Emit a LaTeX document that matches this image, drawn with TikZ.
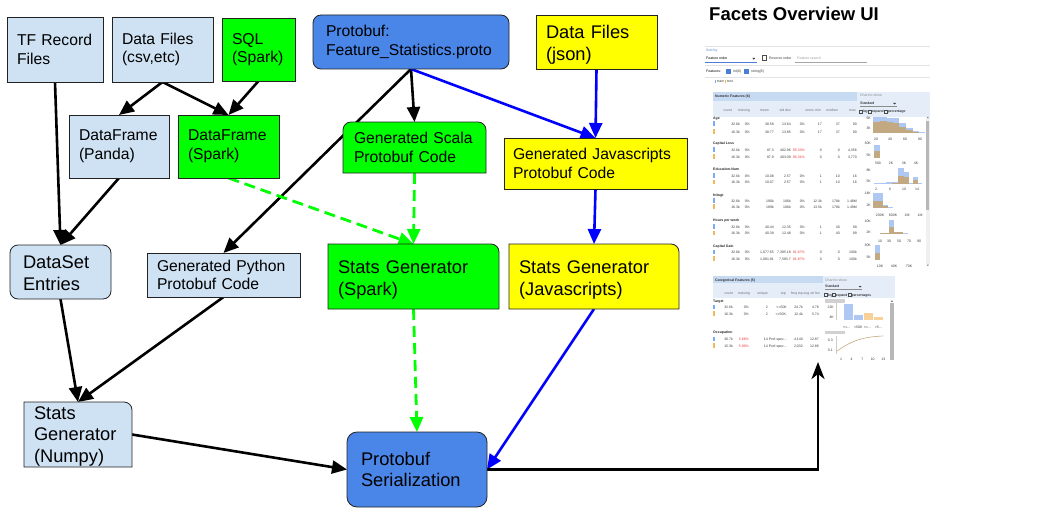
\documentclass[tikz,border=0pt]{standalone}
\usepackage{fontspec}
\setmainfont{Liberation Sans}
\usetikzlibrary{arrows.meta}
\definecolor{lblue}{HTML}{CFE2F3}
\definecolor{lgreen}{HTML}{00FF00}
\definecolor{lyellow}{HTML}{FFFF00}
\definecolor{nblue}{HTML}{4A86E8}
\definecolor{ablue}{HTML}{0000FF}
\definecolor{bordc}{HTML}{222222}
\definecolor{uiblue}{HTML}{7BAAF7}
\definecolor{uiorange}{HTML}{F4B65D}
\definecolor{hdrdark}{HTML}{C6DAF2}
\definecolor{hdrlight}{HTML}{E4EDF8}
\definecolor{histb}{HTML}{AFC8F3}
\definecolor{histt}{HTML}{C3A982}
\definecolor{histo}{HTML}{F7D199}
\definecolor{uigray}{HTML}{E3E3E3}
\definecolor{uitxt}{HTML}{3A3A3A}
\definecolor{uired}{HTML}{F03030}
\definecolor{uilink}{HTML}{4C7DD6}
\newcommand\fsml{\fontsize{15.7}{18.7}\selectfont}
\newcommand\flrg{\fontsize{18.3}{21.8}\selectfont}
\newcommand\uifont{\fontsize{3.5}{3.8}\selectfont}
\newcount\uicnt
\pgfdeclarelayer{edges}\pgfdeclarelayer{boxes}
\pgfsetlayers{edges,boxes,main}
\tikzset{
  nd/.style={anchor=north west, inner xsep=10pt, inner ysep=0pt, outer sep=0pt, align=left},
  sm/.style={font=\fsml},
  lg/.style={font=\flrg},
  dn/.style={execute at begin node={\rule{0pt}{#1}}},
  bd/.style={draw=bordc, line width=0.8pt},
  blk/.style={color=black, line width=2.6pt, -{Triangle[length=15pt,width=13pt]}},
  blu/.style={color=ablue, line width=2.6pt, -{Triangle[length=15pt,width=13pt]}},
  grn/.style={color=lgreen, line width=2.8pt, dash pattern=on 11pt off 6pt, -{Triangle[length=15pt,width=13pt]}},
  blkui/.style={color=black, line width=2.6pt, -{Stealth[length=17pt,width=13pt,inset=5pt]}},
  ut/.style={/utils/exec={\global\advance\uicnt by 1}, name=ui\the\uicnt, font=\uifont, text=uitxt, inner sep=0pt, anchor=base west},
  utr/.style={ut, anchor=base east},
  utc/.style={ut, anchor=base},
}
\newcommand\trbox[3]{\path[bd, fill=#2] (#1.south west) -- (#1.north west) -- ([xshift=-#3]#1.north east) arc[start angle=90,end angle=0,radius=#3] -- (#1.south east) -- cycle;}
\newcommand\tbox[3]{\path[bd, fill=#2] (#1.south west) -- ([yshift=-#3]#1.north west) arc[start angle=180,end angle=90,radius=#3] -- ([xshift=-#3]#1.north east) arc[start angle=90,end angle=0,radius=#3] -- (#1.south east) -- cycle;}
\newcommand\uil[3][]{\node[ut,#1] at (#2) {#3};}
\newcommand\uir[3][]{\node[utr,#1] at (#2) {#3};}
\newcommand\uicc[3][]{\node[utc,#1] at (#2) {#3};}
\newcommand\uimk[2]{\fill[#2] (713.3,-#1-0.8) rectangle (714.6,-#1+3.8);}
\newcommand\numrow[9]{\uir{740,-#1}{#2}\uir{750,-#1}{#3}\uir{774,-#1}{#4}\uir{791,-#1}{#5}\uir{805,-#1}{#6}\uir{822,-#1}{#7}\uir{840,-#1}{#8}\uir{857,-#1}{#9}}
\newcommand\catrow[7]{\uir{733,-#1}{#2}\uir{749,-#1}{#3}\uir{768,-#1}{#4}\uir{787,-#1}{#5}\uir{803,-#1}{#6}\uir{819,-#1}{#7}}
\begin{document}
\begin{tikzpicture}[x=1pt,y=1pt]
\useasboundingbox (0,0) rectangle (1056,-532);

% ---------- nodes ----------
\node[nd, sm, bd, fill=lblue, text width=76pt, minimum height=65pt] (tf) at (7,-17) {TF Record\\Files};
\node[nd, sm, bd, fill=lblue, text width=81pt, minimum height=65pt] (csv) at (112,-17) {Data Files\\(csv,etc)};
\node[nd, sm, bd, fill=lgreen, text width=53pt, minimum height=63pt] (sql) at (222,-18) {SQL\\(Spark)};
\node[nd, sm, bd, fill=lblue, text width=80pt, minimum height=63pt] (panda) at (69,-115) {DataFrame\\(Panda)};
\node[nd, sm, bd, fill=lgreen, text width=81pt, minimum height=63pt] (dfs) at (178,-115) {DataFrame\\(Spark)};
\node[nd, sm, bd, fill=nblue, rounded corners=8pt, inner xsep=13pt, text width=170pt, minimum height=54pt] (proto) at (313,-15) {Protobuf:\\Feature\_Statistics.proto};
\node[nd, lg, dn=18.2pt, bd, fill=lyellow, text width=101pt, minimum height=54pt] (json) at (536,-15) {Data Files\\(json)};
\node[nd, sm, inner xsep=11pt, text width=121pt, minimum height=51pt] (scala) at (343,-122) {Generated Scala\\Protobuf Code};
\node[nd, sm, bd, fill=lyellow, inner xsep=9pt, text width=165pt, minimum height=51pt] (jsgen) at (504,-138) {Generated Javascripts\\Protobuf Code};
\node[nd, lg, dn=15.4pt, bd, fill=lblue, rounded corners=8pt, inner xsep=13pt, text width=75pt, minimum height=54pt] (ds) at (10,-245) {DataSet\\Entries};
\node[nd, sm, bd, fill=lblue, text width=133pt, minimum height=44pt] (python) at (147,-253) {Generated Python\\Protobuf Code};
\node[nd, lg, dn=16.5pt, text width=88pt, minimum height=65pt] (numpy) at (24,-402) {Stats\\Generator\\(Numpy)};
\node[nd, lg, dn=19.4pt, text width=151pt, minimum height=65pt] (sspark) at (328,-244) {Stats Generator\\(Spark)};
\node[nd, lg, dn=19.4pt, text width=150pt, minimum height=65pt] (sjs) at (509,-244) {Stats Generator\\(Javascripts)};
\node[nd, lg, bd, fill=nblue, rounded corners=10pt, inner xsep=14pt, text width=112pt, minimum height=75pt] (ser) at (347,-432) {Protobuf\\Serialization};
\node[anchor=base west, inner sep=0pt, font=\fontsize{18.5}{20}\selectfont\bfseries] (title) at (709,-20.7) {Facets Overview UI};
\coordinate (uiarrow) at (818,-362);

\begin{pgfonlayer}{boxes}
\tbox{scala}{lgreen}{8pt}
\trbox{numpy}{lblue}{8pt}
\trbox{sspark}{lgreen}{8pt}
\trbox{sjs}{lyellow}{8pt}
\end{pgfonlayer}

% ---------- connectors ----------
\begin{pgfonlayer}{edges}
\draw[blk] (tf.south) -- (ds.north);
\draw[blk] (panda.south) -- (ds.north);
\draw[blk] (csv.south) -- (panda.north);
\draw[blk] (csv.south) -- (dfs.north);
\draw[blk] (sql.south) -- (dfs.north);
\draw[blk] (proto.south) -- (python.north);
\draw[grn] (dfs.south) -- (sspark.north);
\draw[blk] (proto.south) -- (scala.north);
\draw[blu] (proto.south) -- (jsgen.north);
\draw[blu] (json.south) -- (jsgen.north);
\draw[grn] (scala.south) -- (sspark.north);
\draw[blu] (jsgen.south) -- (sjs.north);
\draw[blk] (ds.south) -- (numpy.north);
\draw[blk] (python.south) -- (numpy.north);
\draw[blk] (numpy.east) -- (ser.west);
\draw[grn] (sspark.south) -- (ser.north);
\draw[blu] (sjs.south) -- (ser.east);
\draw[blkui] (ser.east) -| (uiarrow);
\end{pgfonlayer}

% ---------- Facets Overview screenshot ----------
\draw[uigray, line width=0.6pt] (705,-46) -- (930,-46);
\draw[uigray, line width=0.6pt] (705,-65.5) -- (930,-65.5);
\draw[uigray, line width=0.6pt] (705,-77) -- (930,-77);
\uil[text=uilink]{706,-52}{Sort by}
\uil[text=black]{706,-59.5}{Feature order}
\draw[uilink, line width=0.7pt] (705,-62.3) -- (757,-62.3);
\fill[uitxt] (752.3,-58) -- (755.3,-58) -- (753.8,-59.6) -- cycle;
\draw[black!70, line width=0.45pt] (762.5,-55.5) rectangle (766.5,-60);
\uil{769,-59.5}{Reverse order}
\uil[text=black!40]{797,-59.5}{Feature search}
\draw[black!35, line width=0.5pt] (795,-62.3) -- (867,-62.3);
\uil[text=black]{706,-72.5}{Features:}
\fill[uilink] (725.5,-69) rectangle (730.5,-74.5);
\uil{733,-72.5}{int(6)}
\fill[uilink] (743.5,-69) rectangle (748.5,-74.5);
\uil{751,-72.5}{string(5)}
\fill[uiblue] (715,-80.5) rectangle (716.3,-83.3);
\uil{717,-83}{train}
\fill[uiorange] (725,-80.5) rectangle (726.3,-83.3);
\uil{727,-83}{test}

% numeric panel
\fill[hdrdark] (713,-92) rectangle (857,-101);
\fill[hdrlight] (857,-92) rectangle (930,-117);
\fill[hdrlight] (713,-101) rectangle (857,-117);
\uil[font=\uifont\bfseries, text=black!80]{715,-98}{Numeric Features (6)}
\uil[text=black!45]{860,-96.5}{Chart to show}
\uil[text=black]{860,-104}{Standard}
\draw[black!45, line width=0.45pt] (860,-106) -- (897,-106);
\fill[uitxt] (893,-103) -- (896,-103) -- (894.5,-104.5) -- cycle;
\foreach \cx in {859.5,868.5,884.5} {\draw[black!70, line width=0.4pt] (\cx,-110) rectangle (\cx+2.6,-112.8);}
\uil[text=black]{862.8,-113}{log}
\uil[text=black]{871.8,-113}{expand}
\uil[text=black]{887.8,-113}{percentage}
\foreach \x/\t in {732/count, 750/missing, 769/mean, 791/std dev, 814/zeros, 821/min, 838/median, 856/max} {\uir[text=black!55]{\x,-111}{\t}}

\uil[font=\uifont\bfseries, text=black!85]{713,-119.5}{Age}
\uimk{125}{uiblue}\numrow{125}{32.6k}{0\%}{38.58}{13.64}{0\%}{17}{37}{90}
\uimk{133}{uiorange}\numrow{133}{16.3k}{0\%}{38.77}{13.85}{0\%}{17}{37}{90}
\uil[font=\uifont\bfseries, text=black!85]{713,-144.5}{Capital Loss}
\uimk{151.2}{uiblue}\numrow{151.2}{32.6k}{0\%}{87.3}{402.96}{\textcolor{uired}{95.33\%}}{0}{0}{4,356}
\uimk{158}{uiorange}\numrow{158}{16.3k}{0\%}{87.9}{403.09}{\textcolor{uired}{95.31\%}}{0}{0}{3,770}
\uil[font=\uifont\bfseries, text=black!85]{713,-170.5}{Education-Num}
\uimk{177}{uiblue}\numrow{177}{32.6k}{0\%}{10.08}{2.57}{0\%}{1}{10}{16}
\uimk{183.5}{uiorange}\numrow{183.5}{16.3k}{0\%}{10.07}{2.57}{0\%}{1}{10}{16}
\uil[font=\uifont\bfseries, text=black!85]{713,-196.2}{fnlwgt}
\uimk{202.2}{uiblue}\numrow{202.2}{32.6k}{0\%}{190k}{106k}{0\%}{12.3k}{178k}{1.48M}
\uimk{208}{uiorange}\numrow{208}{16.3k}{0\%}{189k}{106k}{0\%}{13.5k}{178k}{1.49M}
\uil[font=\uifont\bfseries, text=black!85]{713,-221.2}{Hours per week}
\uimk{228}{uiblue}\numrow{228}{32.6k}{0\%}{40.44}{12.35}{0\%}{1}{40}{99}
\uimk{234.5}{uiorange}\numrow{234.5}{16.3k}{0\%}{40.39}{12.48}{0\%}{1}{40}{99}
\uil[font=\uifont\bfseries, text=black!85]{713,-247}{Capital Gain}
\uimk{253.5}{uiblue}\numrow{253.5}{32.6k}{0\%}{1,077.65}{7,385.18}{\textcolor{uired}{91.67\%}}{0}{0}{100k}
\uimk{260.2}{uiorange}\numrow{260.2}{16.3k}{0\%}{1,081.91}{7,583.7}{\textcolor{uired}{91.87\%}}{0}{0}{100k}

% numeric charts
\foreach \a/\b/\t in {873/880/117, 880/887/116.5, 887/893/117.5, 893/899/118, 899/906/123, 906/913/128, 913/919/131, 919/925/132} \fill[histb] (\a,-\t) rectangle (\b,-132.5);
\foreach \a/\b/\t in {873/880/121.5, 880/887/121, 887/893/122, 893/899/123, 899/906/126.5, 906/913/129.5, 913/919/131.5} \fill[histt] (\a,-\t) rectangle (\b,-132.5);
\uir{871,-119}{6K}\uir{871,-129.5}{3K}
\foreach \x/\t in {876/20,890/40,905/60,920/80} {\uicc{\x,-140}{\t}}

\fill[histb] (874,-145) rectangle (879.5,-158);
\fill[histt] (874,-151) rectangle (879.5,-158);
\uir{871,-144.5}{30K}\uir{871,-156}{5K}
\foreach \x/\t in {878/500,891/2K,904/3K,916/4K} {\uicc{\x,-164.5}{\t}}

\foreach \a/\b/\t in {874/880/182.8, 880/886/182.5, 886/892/182, 892/898/181.5, 898/904/167.5, 904/909/171.5, 909/913/182.5, 913/918/177.3, 918/922/183} \fill[histb] (\a,-\t) rectangle (\b,-183.5);
\foreach \a/\b/\t in {892/898/182.5, 898/904/176, 904/909/176.7, 913/918/180} \fill[histt] (\a,-\t) rectangle (\b,-183.5);
\uir{871,-171.2}{8K}\uir{871,-182}{5K}
\foreach \x/\t in {876/2,890/6,904/10,917/14} {\uicc{\x,-190.5}{\t}}

\foreach \a/\b/\t in {873/883/193.3, 883/888/205, 888/893/206.8} \fill[histb] (\a,-\t) rectangle (\b,-207.5);
\foreach \a/\b/\t in {873/883/200.7, 883/888/206} \fill[histt] (\a,-\t) rectangle (\b,-207.5);
\uir{871,-194.5}{14K}\uir{871,-206.2}{2K}
\foreach \x/\t in {880/200K,893/600K,907/1M,920/1M} {\uicc{\x,-216}{\t}}

\foreach \a/\b/\t in {880/889/232.5, 889/894/220, 894/903/231.5, 903/908/232.8} \fill[histb] (\a,-\t) rectangle (\b,-233.7);
\foreach \a/\b/\t in {880/889/233, 889/894/226.7, 894/903/232.3} \fill[histt] (\a,-\t) rectangle (\b,-233.7);
\uir{871,-222}{10K}\uir{871,-233.5}{2K}
\foreach \x/\t in {880/10,889/30,899/50,909/70,919/90} {\uicc{\x,-242.8}{\t}}

\fill[histb] (875,-245) rectangle (880,-260);
\fill[histt] (875,-253.3) rectangle (880,-260);
\uir{871,-246.2}{30K}\uir{871,-258}{5K}
\foreach \x/\t in {880/10K,894/40K,909/70K} {\uicc{\x,-267.8}{\t}}

\fill[black!6] (925.8,-118) rectangle (929.6,-264);
\fill[black!28] (926.2,-120.5) rectangle (929.2,-210);
\fill[black!50] (926.6,-118.2) -- (929,-118.2) -- (927.8,-116.6) -- cycle;
\fill[black!50] (926.6,-264.6) -- (929,-264.6) -- (927.8,-266.2) -- cycle;

% categorical panel
\fill[hdrdark] (713,-275.7) rectangle (823,-283.3);
\fill[hdrlight] (823,-275.7) rectangle (895,-298.3);
\fill[hdrlight] (713,-283.3) rectangle (823,-298.3);
\uil[font=\uifont\bfseries, text=black!80]{715,-281.3}{Categorical Features (5)}
\uil[text=black!45]{825,-281}{Chart to show}
\uil[text=black]{825,-287.5}{Standard}
\draw[black!45, line width=0.45pt] (825,-289.3) -- (862,-289.3);
\fill[uitxt] (858.5,-286) -- (861.5,-286) -- (860,-287.5) -- cycle;
\foreach \cx in {824.5,832.5,848.5} {\draw[black!70, line width=0.4pt] (\cx,-293.3) rectangle (\cx+2.6,-296);}
\uil[text=black]{827.6,-296}{log}
\uil[text=black]{835.6,-296}{expand}
\uil[text=black]{851.6,-296}{percentages}
\foreach \x/\t in {733/count, 750/missing, 768/unique, 786/top, 803/freq top, 820/avg str len} {\uir[text=black!55]{\x,-294}{\t}}
\uil[font=\uifont\bfseries, text=black!85]{713,-302.5}{Target}
\uimk{308.5}{uiblue}\catrow{308.5}{32.6k}{0\%}{2}{<=50K}{24.7k}{4.76}
\uimk{315}{uiorange}\catrow{315}{16.3k}{0\%}{2}{<=50K.}{12.4k}{5.74}
\uil[font=\uifont\bfseries, text=black!85]{713,-333}{Occupation}
\uimk{340.5}{uiblue}\catrow{340.5}{30.7k}{\textcolor{uired}{5.66\%}}{14}{Prof-spec...}{4,140}{12.87}
\uimk{347}{uiorange}\catrow{347}{15.3k}{\textcolor{uired}{5.90\%}}{14}{Prof-spec...}{2,032}{12.86}

% categorical charts
\fill[black!18] (825,-299.3) rectangle (845,-302.7);
\draw[black!20, line width=0.4pt] (836,-303) -- (836,-320);
\fill[histb] (844,-304.3) rectangle (853.3,-320);
\fill[histb] (854,-315) rectangle (863.3,-320);
\fill[histo] (864,-312.7) rectangle (873.3,-320);
\fill[histo] (874,-317.3) rectangle (882.7,-320);
\uir{834,-308}{22K}\uir{834,-318.5}{4K}
\foreach \x/\t in {846.7/{<=...},858.3/{>50K},867.3/{<=...},878.3/{>5...}} {\uicc{\x,-328}{\t}}
\fill[black!18] (825,-331) rectangle (845,-334.3);
\draw[black!20, line width=0.4pt] (836,-336) -- (836,-354);
\draw[histt, line width=0.6pt] (837,-351) .. controls (850,-342) and (860,-337) .. (883,-336);
\uir{833,-341.2}{0.3}\uir{833,-351.2}{0.1}
\foreach \x/\t in {841/1,851.7/4,862.3/7,872.7/10,883.3/13} {\uicc{\x,-360.2}{\t}}
\fill[black!28] (890.3,-303.3) rectangle (893.5,-360);
\fill[black!50] (890.7,-301.8) -- (893.1,-301.8) -- (891.9,-300.2) -- cycle;
\end{tikzpicture}
\end{document}
